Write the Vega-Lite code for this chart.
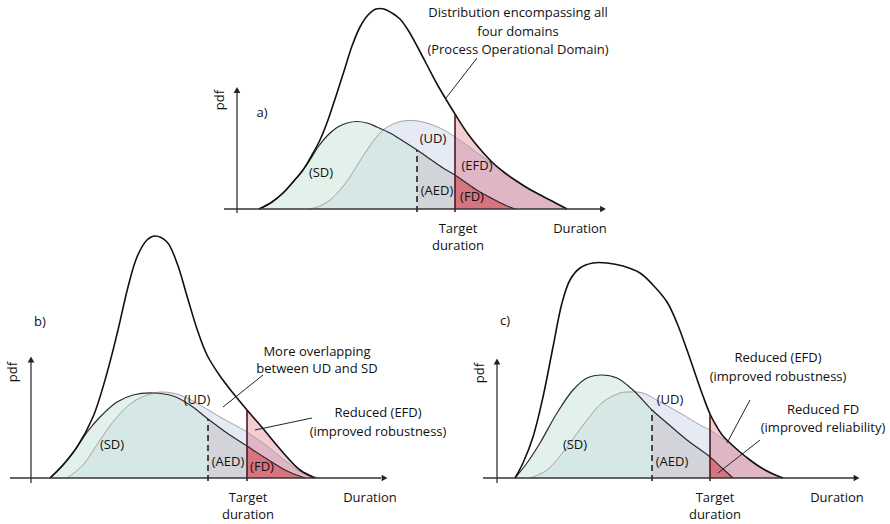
{
  "$schema": "https://vega.github.io/schema/vega-lite/v6.json",
  "padding": 0,
  "background": "white",
  "spacing": 0,
  "bounds": "flush",
  "config": {"view": {"stroke": null}, "concat": {"spacing": 0}, "text": {"font": "Open Sans", "fontSize": 13, "color": "#111111"}},
  "datasets": {
    "curves": [
      {"p":"a","c":"ENV","x":2.2,"y":0},{"p":"a","c":"ENV","x":3.5,"y":0.07},{"p":"a","c":"ENV","x":4.6,"y":0.16},{"p":"a","c":"ENV","x":5.6,"y":0.27},{"p":"a","c":"ENV","x":6.6,"y":0.39},{"p":"a","c":"ENV","x":7.5,"y":0.54},{"p":"a","c":"ENV","x":8.3,"y":0.69},{"p":"a","c":"ENV","x":9.1,"y":0.89},{"p":"a","c":"ENV","x":10.0,"y":1.16},{"p":"a","c":"ENV","x":10.8,"y":1.41},{"p":"a","c":"ENV","x":11.5,"y":1.63},{"p":"a","c":"ENV","x":12.3,"y":1.82},{"p":"a","c":"ENV","x":13.1,"y":1.94},{"p":"a","c":"ENV","x":13.9,"y":2.0},{"p":"a","c":"ENV","x":14.7,"y":2.0},{"p":"a","c":"ENV","x":15.5,"y":1.96},{"p":"a","c":"ENV","x":16.3,"y":1.90},{"p":"a","c":"ENV","x":17.1,"y":1.79},{"p":"a","c":"ENV","x":18.0,"y":1.63},{"p":"a","c":"ENV","x":19.0,"y":1.44},{"p":"a","c":"ENV","x":20.0,"y":1.25},{"p":"a","c":"ENV","x":21.0,"y":1.08},{"p":"a","c":"ENV","x":21.8,"y":0.95},{"p":"a","c":"ENV","x":23.1,"y":0.75},{"p":"a","c":"ENV","x":24.3,"y":0.60},{"p":"a","c":"ENV","x":25.6,"y":0.46},{"p":"a","c":"ENV","x":26.8,"y":0.36},{"p":"a","c":"ENV","x":28.1,"y":0.27},{"p":"a","c":"ENV","x":29.3,"y":0.195},{"p":"a","c":"ENV","x":30.6,"y":0.125},{"p":"a","c":"ENV","x":31.8,"y":0.063},{"p":"a","c":"ENV","x":33.0,"y":0},
      {"p":"a","c":"SD","x":2.2,"y":0},{"p":"a","c":"SD","x":3.5,"y":0.07},{"p":"a","c":"SD","x":4.6,"y":0.16},{"p":"a","c":"SD","x":5.6,"y":0.27},{"p":"a","c":"SD","x":6.6,"y":0.39},{"p":"a","c":"SD","x":7.3,"y":0.49},{"p":"a","c":"SD","x":8.1,"y":0.62},{"p":"a","c":"SD","x":9.0,"y":0.73},{"p":"a","c":"SD","x":10.0,"y":0.815},{"p":"a","c":"SD","x":11.0,"y":0.86},{"p":"a","c":"SD","x":12.0,"y":0.875},{"p":"a","c":"SD","x":13.0,"y":0.86},{"p":"a","c":"SD","x":14.0,"y":0.82},{"p":"a","c":"SD","x":15.3,"y":0.76},{"p":"a","c":"SD","x":16.6,"y":0.68},{"p":"a","c":"SD","x":18.0,"y":0.59},{"p":"a","c":"SD","x":19.3,"y":0.50},{"p":"a","c":"SD","x":20.6,"y":0.41},{"p":"a","c":"SD","x":21.8,"y":0.34},{"p":"a","c":"SD","x":23.1,"y":0.25},{"p":"a","c":"SD","x":24.3,"y":0.17},{"p":"a","c":"SD","x":25.6,"y":0.10},{"p":"a","c":"SD","x":26.8,"y":0.04},{"p":"a","c":"SD","x":27.8,"y":0},
      {"p":"a","c":"UD","x":7.3,"y":0},{"p":"a","c":"UD","x":8.3,"y":0.03},{"p":"a","c":"UD","x":9.3,"y":0.09},{"p":"a","c":"UD","x":10.3,"y":0.19},{"p":"a","c":"UD","x":11.3,"y":0.32},{"p":"a","c":"UD","x":12.1,"y":0.45},{"p":"a","c":"UD","x":13.0,"y":0.59},{"p":"a","c":"UD","x":13.8,"y":0.70},{"p":"a","c":"UD","x":14.6,"y":0.79},{"p":"a","c":"UD","x":15.6,"y":0.85},{"p":"a","c":"UD","x":16.6,"y":0.88},{"p":"a","c":"UD","x":17.6,"y":0.885},{"p":"a","c":"UD","x":18.6,"y":0.87},{"p":"a","c":"UD","x":19.6,"y":0.84},{"p":"a","c":"UD","x":20.7,"y":0.79},{"p":"a","c":"UD","x":21.8,"y":0.72},{"p":"a","c":"UD","x":23.1,"y":0.63},{"p":"a","c":"UD","x":24.3,"y":0.54},{"p":"a","c":"UD","x":25.3,"y":0.47},{"p":"a","c":"UD","x":26.0,"y":0.415},{"p":"a","c":"UD","x":26.8,"y":0.36},{"p":"a","c":"UD","x":28.1,"y":0.27},{"p":"a","c":"UD","x":29.3,"y":0.195},{"p":"a","c":"UD","x":30.6,"y":0.125},{"p":"a","c":"UD","x":31.8,"y":0.063},{"p":"a","c":"UD","x":33.0,"y":0},

      {"p":"b","c":"ENV","x":1.9,"y":0},{"p":"b","c":"ENV","x":3.2,"y":0.13},{"p":"b","c":"ENV","x":4.6,"y":0.31},{"p":"b","c":"ENV","x":6.2,"y":0.61},{"p":"b","c":"ENV","x":7.6,"y":1.05},{"p":"b","c":"ENV","x":8.7,"y":1.48},{"p":"b","c":"ENV","x":9.7,"y":1.91},{"p":"b","c":"ENV","x":10.6,"y":2.21},{"p":"b","c":"ENV","x":11.6,"y":2.38},{"p":"b","c":"ENV","x":12.4,"y":2.42},{"p":"b","c":"ENV","x":13.6,"y":2.36},{"p":"b","c":"ENV","x":14.6,"y":2.15},{"p":"b","c":"ENV","x":15.6,"y":1.82},{"p":"b","c":"ENV","x":16.6,"y":1.49},{"p":"b","c":"ENV","x":17.6,"y":1.23},{"p":"b","c":"ENV","x":18.9,"y":1.02},{"p":"b","c":"ENV","x":20.2,"y":0.85},{"p":"b","c":"ENV","x":21.6,"y":0.68},{"p":"b","c":"ENV","x":23.2,"y":0.495},{"p":"b","c":"ENV","x":24.9,"y":0.29},{"p":"b","c":"ENV","x":26.9,"y":0.08},{"p":"b","c":"ENV","x":28.4,"y":0},
      {"p":"b","c":"SD","x":1.9,"y":0},{"p":"b","c":"SD","x":3.2,"y":0.13},{"p":"b","c":"SD","x":4.6,"y":0.31},{"p":"b","c":"SD","x":5.7,"y":0.47},{"p":"b","c":"SD","x":6.9,"y":0.61},{"p":"b","c":"SD","x":8.6,"y":0.76},{"p":"b","c":"SD","x":10.2,"y":0.83},{"p":"b","c":"SD","x":12.2,"y":0.85},{"p":"b","c":"SD","x":14.2,"y":0.82},{"p":"b","c":"SD","x":15.9,"y":0.73},{"p":"b","c":"SD","x":17.7,"y":0.59},{"p":"b","c":"SD","x":19.6,"y":0.45},{"p":"b","c":"SD","x":21.6,"y":0.32},{"p":"b","c":"SD","x":23.6,"y":0.19},{"p":"b","c":"SD","x":25.6,"y":0.07},{"p":"b","c":"SD","x":27.4,"y":0},
      {"p":"b","c":"UD","x":3.6,"y":0},{"p":"b","c":"UD","x":5.2,"y":0.13},{"p":"b","c":"UD","x":6.9,"y":0.38},{"p":"b","c":"UD","x":8.6,"y":0.61},{"p":"b","c":"UD","x":10.2,"y":0.76},{"p":"b","c":"UD","x":11.9,"y":0.84},{"p":"b","c":"UD","x":13.2,"y":0.86},{"p":"b","c":"UD","x":14.9,"y":0.83},{"p":"b","c":"UD","x":16.9,"y":0.73},{"p":"b","c":"UD","x":18.9,"y":0.61},{"p":"b","c":"UD","x":21.6,"y":0.46},{"p":"b","c":"UD","x":23.6,"y":0.32},{"p":"b","c":"UD","x":25.6,"y":0.16},{"p":"b","c":"UD","x":27.2,"y":0.05},{"p":"b","c":"UD","x":28.9,"y":0},

      {"p":"c","c":"ENV","x":1.8,"y":0},{"p":"c","c":"ENV","x":2.6,"y":0.15},{"p":"c","c":"ENV","x":3.6,"y":0.41},{"p":"c","c":"ENV","x":4.6,"y":0.81},{"p":"c","c":"ENV","x":5.6,"y":1.31},{"p":"c","c":"ENV","x":6.5,"y":1.75},{"p":"c","c":"ENV","x":7.3,"y":1.98},{"p":"c","c":"ENV","x":8.3,"y":2.10},{"p":"c","c":"ENV","x":9.6,"y":2.15},{"p":"c","c":"ENV","x":11.0,"y":2.15},{"p":"c","c":"ENV","x":12.6,"y":2.12},{"p":"c","c":"ENV","x":14.3,"y":2.05},{"p":"c","c":"ENV","x":15.6,"y":1.93},{"p":"c","c":"ENV","x":17.0,"y":1.76},{"p":"c","c":"ENV","x":18.0,"y":1.55},{"p":"c","c":"ENV","x":19.0,"y":1.28},{"p":"c","c":"ENV","x":20.0,"y":0.99},{"p":"c","c":"ENV","x":20.6,"y":0.82},{"p":"c","c":"ENV","x":21.3,"y":0.64},{"p":"c","c":"ENV","x":22.0,"y":0.51},{"p":"c","c":"ENV","x":22.6,"y":0.42},{"p":"c","c":"ENV","x":23.4,"y":0.34},{"p":"c","c":"ENV","x":24.3,"y":0.26},{"p":"c","c":"ENV","x":25.3,"y":0.18},{"p":"c","c":"ENV","x":26.3,"y":0.11},{"p":"c","c":"ENV","x":27.5,"y":0.045},{"p":"c","c":"ENV","x":28.6,"y":0},
      {"p":"c","c":"SD","x":1.8,"y":0},{"p":"c","c":"SD","x":3.0,"y":0.15},{"p":"c","c":"SD","x":4.3,"y":0.35},{"p":"c","c":"SD","x":6.0,"y":0.65},{"p":"c","c":"SD","x":7.6,"y":0.88},{"p":"c","c":"SD","x":9.0,"y":1.0},{"p":"c","c":"SD","x":10.5,"y":1.03},{"p":"c","c":"SD","x":12.0,"y":1.0},{"p":"c","c":"SD","x":13.6,"y":0.88},{"p":"c","c":"SD","x":15.5,"y":0.68},{"p":"c","c":"SD","x":17.0,"y":0.55},{"p":"c","c":"SD","x":19.0,"y":0.38},{"p":"c","c":"SD","x":21.3,"y":0.21},{"p":"c","c":"SD","x":22.5,"y":0.10},{"p":"c","c":"SD","x":23.6,"y":0},
      {"p":"c","c":"UD","x":3.3,"y":0},{"p":"c","c":"UD","x":5.0,"y":0.08},{"p":"c","c":"UD","x":7.0,"y":0.31},{"p":"c","c":"UD","x":9.0,"y":0.58},{"p":"c","c":"UD","x":10.6,"y":0.76},{"p":"c","c":"UD","x":12.3,"y":0.85},{"p":"c","c":"UD","x":13.1,"y":0.86},{"p":"c","c":"UD","x":14.6,"y":0.85},{"p":"c","c":"UD","x":16.3,"y":0.76},{"p":"c","c":"UD","x":18.3,"y":0.65},{"p":"c","c":"UD","x":20.3,"y":0.53},{"p":"c","c":"UD","x":21.3,"y":0.48},{"p":"c","c":"UD","x":22.3,"y":0.41},{"p":"c","c":"UD","x":23.4,"y":0.34},{"p":"c","c":"UD","x":24.3,"y":0.26},{"p":"c","c":"UD","x":25.3,"y":0.18},{"p":"c","c":"UD","x":26.3,"y":0.11},{"p":"c","c":"UD","x":27.5,"y":0.045},{"p":"c","c":"UD","x":28.6,"y":0}
    ],
    "segments": [
      {"p":"a","k":"axis","x":-1.3,"y":0,"x2":36.4,"y2":0},{"p":"a","k":"axis","x":0,"y":-0.04,"x2":0,"y2":1.17},
      {"p":"a","k":"dashed","x":18.0,"y":-0.03,"x2":18.0,"y2":0.59},{"p":"a","k":"target","x":21.8,"y":-0.03,"x2":21.8,"y2":0.95},
      {"p":"a","k":"leader","x":24.0,"y":1.51,"x2":20.9,"y2":1.11},
      {"p":"b","k":"axis","x":-2.1,"y":0,"x2":35.0,"y2":0},{"p":"b","k":"axis","x":0,"y":-0.05,"x2":0,"y2":1.16},
      {"p":"b","k":"dashed","x":17.7,"y":-0.03,"x2":17.7,"y2":0.59},{"p":"b","k":"target","x":21.6,"y":-0.03,"x2":21.6,"y2":0.68},
      {"p":"b","k":"leader","x":23.2,"y":1.03,"x2":19.2,"y2":0.71},{"p":"b","k":"leader","x":28.1,"y":0.60,"x2":22.4,"y2":0.48},
      {"p":"c","k":"axis","x":-1.4,"y":0,"x2":35.7,"y2":0},{"p":"c","k":"axis","x":0,"y":-0.05,"x2":0,"y2":1.14},
      {"p":"c","k":"dashed","x":15.5,"y":-0.03,"x2":15.5,"y2":0.68},{"p":"c","k":"target","x":21.3,"y":-0.03,"x2":21.3,"y2":0.64},
      {"p":"c","k":"leader","x":25.3,"y":0.78,"x2":23.0,"y2":0.35},{"p":"c","k":"leader","x":26.3,"y":0.38,"x2":22.1,"y2":0.05}
    ],
    "arrows": [
      {"p":"a","dir":"right","x":36.6,"y":0},{"p":"a","dir":"up","x":0,"y":1.19},
      {"p":"b","dir":"right","x":35.35,"y":0},{"p":"b","dir":"up","x":0,"y":1.185},
      {"p":"c","dir":"right","x":35.95,"y":0},{"p":"c","dir":"up","x":0,"y":1.165}
    ],
    "labels": [
      {"p":"a","text":"a)","x":2.5,"y":0.96},
      {"p":"a","text":"Distribution encompassing all","x":28.1,"y":1.96},
      {"p":"a","text":"four domains","x":28.1,"y":1.775},
      {"p":"a","text":"(Process Operational Domain)","x":28.1,"y":1.59},
      {"p":"a","text":"(UD)","x":19.6,"y":0.70},
      {"p":"a","text":"(SD)","x":8.4,"y":0.36},
      {"p":"a","text":"(EFD)","x":24.0,"y":0.43},
      {"p":"a","text":"(AED)","x":20.0,"y":0.18},
      {"p":"a","text":"(FD)","x":23.5,"y":0.12},
      {"p":"a","text":"Target","x":22.1,"y":-0.20},
      {"p":"a","text":"duration","x":22.1,"y":-0.37},
      {"p":"a","text":"Duration","x":34.3,"y":-0.2},
      {"p":"b","text":"b)","x":0.9,"y":1.56},
      {"p":"b","text":"More overlapping","x":28.6,"y":1.265},
      {"p":"b","text":"between UD and SD","x":28.6,"y":1.09},
      {"p":"b","text":"(UD)","x":16.6,"y":0.78},
      {"p":"b","text":"Reduced (EFD)","x":34.7,"y":0.65},
      {"p":"b","text":"(improved robustness)","x":34.7,"y":0.46},
      {"p":"b","text":"(SD)","x":8.1,"y":0.33},
      {"p":"b","text":"(AED)","x":19.7,"y":0.16},
      {"p":"b","text":"(FD)","x":23.1,"y":0.11},
      {"p":"b","text":"Target","x":21.7,"y":-0.20},
      {"p":"b","text":"duration","x":21.7,"y":-0.37},
      {"p":"b","text":"Duration","x":33.9,"y":-0.2},
      {"p":"c","text":"c)","x":0.8,"y":1.57},
      {"p":"c","text":"Reduced (EFD)","x":28.1,"y":1.2},
      {"p":"c","text":"(improved robustness)","x":28.1,"y":1.01},
      {"p":"c","text":"Reduced FD","x":32.6,"y":0.685},
      {"p":"c","text":"(improved reliability)","x":32.6,"y":0.50},
      {"p":"c","text":"(UD)","x":17.3,"y":0.78},
      {"p":"c","text":"(SD)","x":7.8,"y":0.33},
      {"p":"c","text":"(AED)","x":17.5,"y":0.16},
      {"p":"c","text":"Target","x":21.8,"y":-0.20},
      {"p":"c","text":"duration","x":21.8,"y":-0.37},
      {"p":"c","text":"Duration","x":34.0,"y":-0.2}
    ],
    "ylabels": [
      {"p":"a","text":"pdf","x":-1.7,"y":1.09},
      {"p":"b","text":"pdf","x":-1.8,"y":1.06},
      {"p":"c","text":"pdf","x":-1.7,"y":1.05}
    ]
  },
  "vconcat": [
    {
      "width": 890, "height": 240,
      "encoding": {
        "x": {"field": "x", "type": "quantitative", "scale": {"domain": [-23.7, 65.3], "nice": false, "zero": false}, "axis": null},
        "y": {"field": "y", "type": "quantitative", "stack": null, "scale": {"domain": [-0.31, 2.09], "nice": false, "zero": false}, "axis": null}
      },
      "layer": [
        {"data": {"name": "curves"}, "transform": [{"filter": "datum.p=='a' && datum.c=='UD' && datum.x<=21.8"}], "mark": {"type": "area", "color": "#e6eaf5", "interpolate": "catmull-rom"}, "encoding": {"y2": {"datum": 0}}},
        {"data": {"name": "curves"}, "transform": [{"filter": "datum.p=='a' && datum.c=='SD' && datum.x<=18.0"}], "mark": {"type": "area", "color": "#c5e5d5", "opacity": 0.5, "interpolate": "catmull-rom"}, "encoding": {"y2": {"datum": 0}}},
        {"data": {"name": "curves"}, "transform": [{"filter": "datum.p=='a' && datum.c=='SD' && datum.x>=18.0 && datum.x<=21.8"}], "mark": {"type": "area", "color": "#d2d4d9", "interpolate": "catmull-rom"}, "encoding": {"y2": {"datum": 0}}},
        {"data": {"name": "curves"}, "transform": [{"filter": "datum.p=='a' && datum.c=='ENV' && datum.x>=21.8"}], "mark": {"type": "area", "color": "#f4cdd1", "interpolate": "catmull-rom"}, "encoding": {"y2": {"datum": 0}}},
        {"data": {"name": "curves"}, "transform": [{"filter": "datum.p=='a' && datum.c=='UD' && datum.x>=21.8"}], "mark": {"type": "area", "color": "#e0b5c5", "interpolate": "catmull-rom"}, "encoding": {"y2": {"datum": 0}}},
        {"data": {"name": "curves"}, "transform": [{"filter": "datum.p=='a' && datum.c=='SD' && datum.x>=21.8"}], "mark": {"type": "area", "color": "#d6747f", "interpolate": "catmull-rom"}, "encoding": {"y2": {"datum": 0}}},
        {"data": {"name": "curves"}, "transform": [{"filter": "datum.p=='a' && datum.c=='UD'"}], "mark": {"type": "line", "color": "#a3a3a3", "strokeWidth": 1, "interpolate": "catmull-rom"}, "encoding": {}},
        {"data": {"name": "curves"}, "transform": [{"filter": "datum.p=='a' && datum.c=='SD'"}], "mark": {"type": "line", "color": "#2b2b2b", "strokeWidth": 1.2, "interpolate": "catmull-rom"}, "encoding": {}},
        {"data": {"name": "curves"}, "transform": [{"filter": "datum.p=='a' && datum.c=='ENV'"}], "mark": {"type": "line", "color": "#111111", "strokeWidth": 1.6, "interpolate": "catmull-rom"}, "encoding": {}},
        {"data": {"name": "segments"}, "transform": [{"filter": "datum.p=='a' && datum.k=='dashed'"}], "mark": {"type": "rule", "color": "#222222", "strokeWidth": 1.6, "strokeDash": [6, 4]}, "encoding": {"x2": {"field": "x2"}, "y2": {"field": "y2"}}},
        {"data": {"name": "segments"}, "transform": [{"filter": "datum.p=='a' && datum.k=='target'"}], "mark": {"type": "rule", "color": "#4a1a20", "strokeWidth": 1.6}, "encoding": {"x2": {"field": "x2"}, "y2": {"field": "y2"}}},
        {"data": {"name": "segments"}, "transform": [{"filter": "datum.p=='a' && datum.k=='axis'"}], "mark": {"type": "rule", "color": "#333333", "strokeWidth": 1.3}, "encoding": {"x2": {"field": "x2"}, "y2": {"field": "y2"}}},
        {"data": {"name": "segments"}, "transform": [{"filter": "datum.p=='a' && datum.k=='leader'"}], "mark": {"type": "rule", "color": "#222222", "strokeWidth": 1}, "encoding": {"x2": {"field": "x2"}, "y2": {"field": "y2"}}},
        {"data": {"name": "arrows"}, "transform": [{"filter": "datum.p=='a'"}], "mark": {"type": "point", "filled": true, "color": "#222222", "size": 45, "opacity": 1}, "encoding": {"shape": {"field": "dir", "type": "nominal", "scale": {"domain": ["up", "right"], "range": ["triangle-up", "triangle-right"]}, "legend": null}}},
        {"data": {"name": "labels"}, "transform": [{"filter": "datum.p=='a'"}], "mark": {"type": "text", "align": "center", "baseline": "middle"}, "encoding": {"text": {"field": "text"}}},
        {"data": {"name": "ylabels"}, "transform": [{"filter": "datum.p=='a'"}], "mark": {"type": "text", "align": "center", "baseline": "middle", "angle": 270}, "encoding": {"text": {"field": "text"}}}
      ]
    },
    {
      "spacing": 0,
      "bounds": "flush",
      "hconcat": [
        {
          "width": 445, "height": 284,
          "encoding": {
            "x": {"field": "x", "type": "quantitative", "scale": {"domain": [-3.1, 41.4], "nice": false, "zero": false}, "axis": null},
            "y": {"field": "y", "type": "quantitative", "stack": null, "scale": {"domain": [-0.46, 2.38], "nice": false, "zero": false}, "axis": null}
          },
          "layer": [
            {"data": {"name": "curves"}, "transform": [{"filter": "datum.p=='b' && datum.c=='UD' && datum.x<=21.6"}], "mark": {"type": "area", "color": "#e6eaf5", "interpolate": "catmull-rom"}, "encoding": {"y2": {"datum": 0}}},
            {"data": {"name": "curves"}, "transform": [{"filter": "datum.p=='b' && datum.c=='SD' && datum.x<=17.7"}], "mark": {"type": "area", "color": "#c5e5d5", "opacity": 0.5, "interpolate": "catmull-rom"}, "encoding": {"y2": {"datum": 0}}},
            {"data": {"name": "curves"}, "transform": [{"filter": "datum.p=='b' && datum.c=='SD' && datum.x>=17.7 && datum.x<=21.6"}], "mark": {"type": "area", "color": "#d2d4d9", "interpolate": "catmull-rom"}, "encoding": {"y2": {"datum": 0}}},
            {"data": {"name": "curves"}, "transform": [{"filter": "datum.p=='b' && datum.c=='ENV' && datum.x>=21.6"}], "mark": {"type": "area", "color": "#f4cdd1", "interpolate": "catmull-rom"}, "encoding": {"y2": {"datum": 0}}},
            {"data": {"name": "curves"}, "transform": [{"filter": "datum.p=='b' && datum.c=='UD' && datum.x>=21.6"}], "mark": {"type": "area", "color": "#e0b5c5", "interpolate": "catmull-rom"}, "encoding": {"y2": {"datum": 0}}},
            {"data": {"name": "curves"}, "transform": [{"filter": "datum.p=='b' && datum.c=='SD' && datum.x>=21.6"}], "mark": {"type": "area", "color": "#d6747f", "interpolate": "catmull-rom"}, "encoding": {"y2": {"datum": 0}}},
            {"data": {"name": "curves"}, "transform": [{"filter": "datum.p=='b' && datum.c=='UD'"}], "mark": {"type": "line", "color": "#a3a3a3", "strokeWidth": 1, "interpolate": "catmull-rom"}, "encoding": {}},
            {"data": {"name": "curves"}, "transform": [{"filter": "datum.p=='b' && datum.c=='SD'"}], "mark": {"type": "line", "color": "#2b2b2b", "strokeWidth": 1.2, "interpolate": "catmull-rom"}, "encoding": {}},
            {"data": {"name": "curves"}, "transform": [{"filter": "datum.p=='b' && datum.c=='ENV'"}], "mark": {"type": "line", "color": "#111111", "strokeWidth": 1.6, "interpolate": "catmull-rom"}, "encoding": {}},
            {"data": {"name": "segments"}, "transform": [{"filter": "datum.p=='b' && datum.k=='dashed'"}], "mark": {"type": "rule", "color": "#222222", "strokeWidth": 1.6, "strokeDash": [6, 4]}, "encoding": {"x2": {"field": "x2"}, "y2": {"field": "y2"}}},
            {"data": {"name": "segments"}, "transform": [{"filter": "datum.p=='b' && datum.k=='target'"}], "mark": {"type": "rule", "color": "#4a1a20", "strokeWidth": 1.6}, "encoding": {"x2": {"field": "x2"}, "y2": {"field": "y2"}}},
            {"data": {"name": "segments"}, "transform": [{"filter": "datum.p=='b' && datum.k=='axis'"}], "mark": {"type": "rule", "color": "#333333", "strokeWidth": 1.3}, "encoding": {"x2": {"field": "x2"}, "y2": {"field": "y2"}}},
            {"data": {"name": "segments"}, "transform": [{"filter": "datum.p=='b' && datum.k=='leader'"}], "mark": {"type": "rule", "color": "#222222", "strokeWidth": 1}, "encoding": {"x2": {"field": "x2"}, "y2": {"field": "y2"}}},
            {"data": {"name": "arrows"}, "transform": [{"filter": "datum.p=='b'"}], "mark": {"type": "point", "filled": true, "color": "#222222", "size": 45, "opacity": 1}, "encoding": {"shape": {"field": "dir", "type": "nominal", "scale": {"domain": ["up", "right"], "range": ["triangle-up", "triangle-right"]}, "legend": null}}},
            {"data": {"name": "labels"}, "transform": [{"filter": "datum.p=='b'"}], "mark": {"type": "text", "align": "center", "baseline": "middle"}, "encoding": {"text": {"field": "text"}}},
            {"data": {"name": "ylabels"}, "transform": [{"filter": "datum.p=='b'"}], "mark": {"type": "text", "align": "center", "baseline": "middle", "angle": 270}, "encoding": {"text": {"field": "text"}}}
          ]
        },
        {
          "width": 445, "height": 284,
          "encoding": {
            "x": {"field": "x", "type": "quantitative", "scale": {"domain": [-5.2, 39.3], "nice": false, "zero": false}, "axis": null},
            "y": {"field": "y", "type": "quantitative", "stack": null, "scale": {"domain": [-0.46, 2.38], "nice": false, "zero": false}, "axis": null}
          },
          "layer": [
            {"data": {"name": "curves"}, "transform": [{"filter": "datum.p=='c' && datum.c=='UD' && datum.x<=21.3"}], "mark": {"type": "area", "color": "#e6eaf5", "interpolate": "catmull-rom"}, "encoding": {"y2": {"datum": 0}}},
            {"data": {"name": "curves"}, "transform": [{"filter": "datum.p=='c' && datum.c=='SD' && datum.x<=15.5"}], "mark": {"type": "area", "color": "#c5e5d5", "opacity": 0.5, "interpolate": "catmull-rom"}, "encoding": {"y2": {"datum": 0}}},
            {"data": {"name": "curves"}, "transform": [{"filter": "datum.p=='c' && datum.c=='SD' && datum.x>=15.5 && datum.x<=21.3"}], "mark": {"type": "area", "color": "#d2d4d9", "interpolate": "catmull-rom"}, "encoding": {"y2": {"datum": 0}}},
            {"data": {"name": "curves"}, "transform": [{"filter": "datum.p=='c' && datum.c=='ENV' && datum.x>=21.3"}], "mark": {"type": "area", "color": "#f4cdd1", "interpolate": "catmull-rom"}, "encoding": {"y2": {"datum": 0}}},
            {"data": {"name": "curves"}, "transform": [{"filter": "datum.p=='c' && datum.c=='UD' && datum.x>=21.3"}], "mark": {"type": "area", "color": "#e0b5c5", "interpolate": "catmull-rom"}, "encoding": {"y2": {"datum": 0}}},
            {"data": {"name": "curves"}, "transform": [{"filter": "datum.p=='c' && datum.c=='SD' && datum.x>=21.3"}], "mark": {"type": "area", "color": "#d6747f", "interpolate": "catmull-rom"}, "encoding": {"y2": {"datum": 0}}},
            {"data": {"name": "curves"}, "transform": [{"filter": "datum.p=='c' && datum.c=='UD'"}], "mark": {"type": "line", "color": "#a3a3a3", "strokeWidth": 1, "interpolate": "catmull-rom"}, "encoding": {}},
            {"data": {"name": "curves"}, "transform": [{"filter": "datum.p=='c' && datum.c=='SD'"}], "mark": {"type": "line", "color": "#2b2b2b", "strokeWidth": 1.2, "interpolate": "catmull-rom"}, "encoding": {}},
            {"data": {"name": "curves"}, "transform": [{"filter": "datum.p=='c' && datum.c=='ENV'"}], "mark": {"type": "line", "color": "#111111", "strokeWidth": 1.6, "interpolate": "catmull-rom"}, "encoding": {}},
            {"data": {"name": "segments"}, "transform": [{"filter": "datum.p=='c' && datum.k=='dashed'"}], "mark": {"type": "rule", "color": "#222222", "strokeWidth": 1.6, "strokeDash": [6, 4]}, "encoding": {"x2": {"field": "x2"}, "y2": {"field": "y2"}}},
            {"data": {"name": "segments"}, "transform": [{"filter": "datum.p=='c' && datum.k=='target'"}], "mark": {"type": "rule", "color": "#4a1a20", "strokeWidth": 1.6}, "encoding": {"x2": {"field": "x2"}, "y2": {"field": "y2"}}},
            {"data": {"name": "segments"}, "transform": [{"filter": "datum.p=='c' && datum.k=='axis'"}], "mark": {"type": "rule", "color": "#333333", "strokeWidth": 1.3}, "encoding": {"x2": {"field": "x2"}, "y2": {"field": "y2"}}},
            {"data": {"name": "segments"}, "transform": [{"filter": "datum.p=='c' && datum.k=='leader'"}], "mark": {"type": "rule", "color": "#222222", "strokeWidth": 1}, "encoding": {"x2": {"field": "x2"}, "y2": {"field": "y2"}}},
            {"data": {"name": "arrows"}, "transform": [{"filter": "datum.p=='c'"}], "mark": {"type": "point", "filled": true, "color": "#222222", "size": 45, "opacity": 1}, "encoding": {"shape": {"field": "dir", "type": "nominal", "scale": {"domain": ["up", "right"], "range": ["triangle-up", "triangle-right"]}, "legend": null}}},
            {"data": {"name": "labels"}, "transform": [{"filter": "datum.p=='c'"}], "mark": {"type": "text", "align": "center", "baseline": "middle"}, "encoding": {"text": {"field": "text"}}},
            {"data": {"name": "ylabels"}, "transform": [{"filter": "datum.p=='c'"}], "mark": {"type": "text", "align": "center", "baseline": "middle", "angle": 270}, "encoding": {"text": {"field": "text"}}}
          ]
        }
      ]
    }
  ]
}
